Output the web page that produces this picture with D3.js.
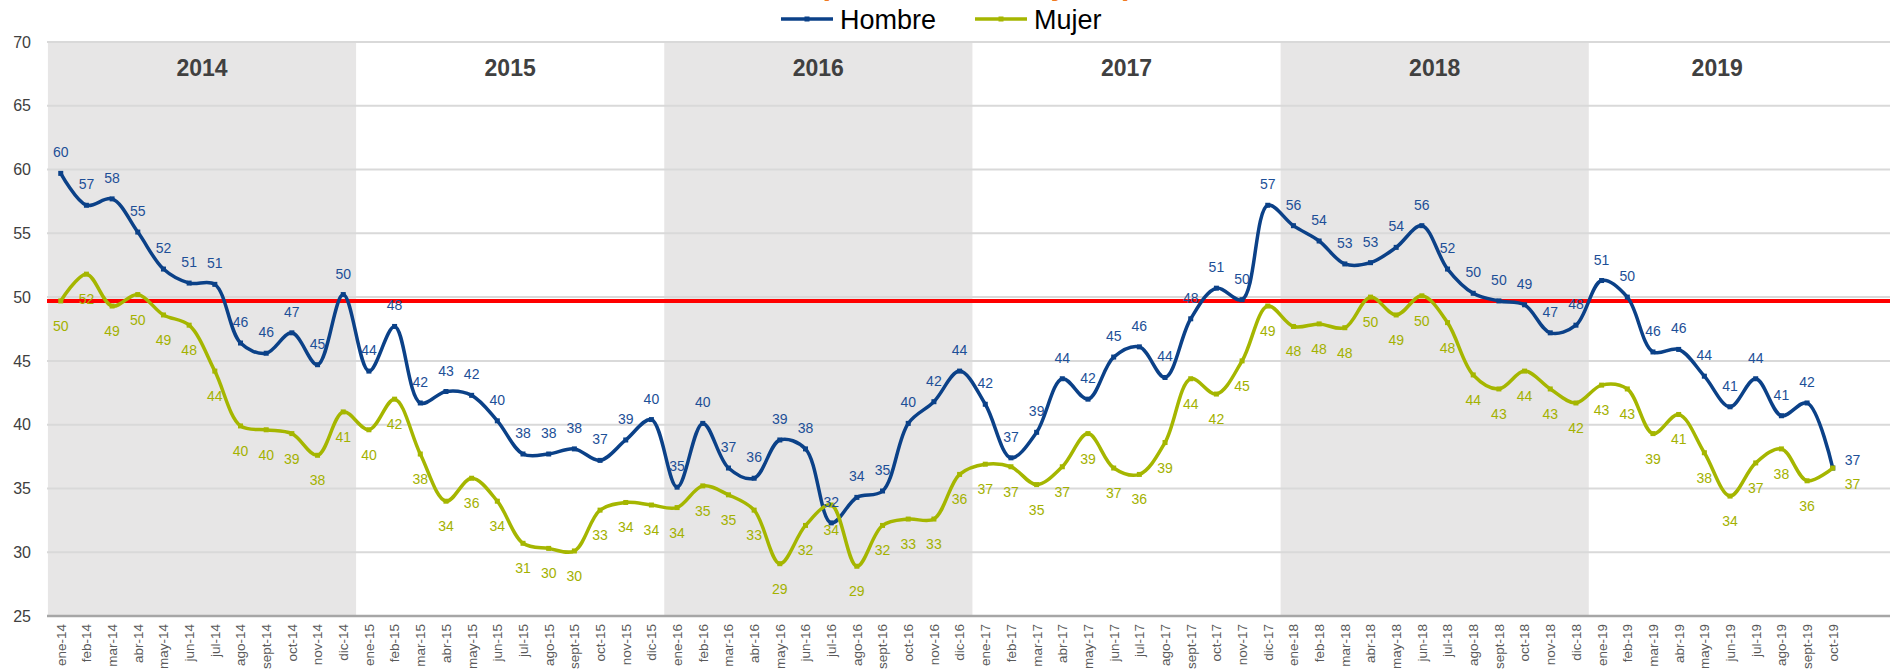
<!doctype html>
<html>
<head>
<meta charset="utf-8">
<title>Hombre / Mujer</title>
<script src="https://d3js.org/d3.v7.min.js"></script>
<style>
body { margin: 0; background: #fff; }
svg { display: block; font-family: Arial, "Liberation Sans", sans-serif; }
</style>
</head>
<body>
<svg width="1890" height="669"></svg>
<script>
// categorias (meses)
var meses = [
    "ene-14", "feb-14", "mar-14", "abr-14", "may-14", "jun-14", "jul-14", "ago-14", "sept-14", "oct-14", "nov-14", "dic-14",
    "ene-15", "feb-15", "mar-15", "abr-15", "may-15", "jun-15", "jul-15", "ago-15", "sept-15", "oct-15", "nov-15", "dic-15",
    "ene-16", "feb-16", "mar-16", "abr-16", "may-16", "jun-16", "jul-16", "ago-16", "sept-16", "oct-16", "nov-16", "dic-16",
    "ene-17", "feb-17", "mar-17", "abr-17", "may-17", "jun-17", "jul-17", "ago-17", "sept-17", "oct-17", "nov-17", "dic-17",
    "ene-18", "feb-18", "mar-18", "abr-18", "may-18", "jun-18", "jul-18", "ago-18", "sept-18", "oct-18", "nov-18", "dic-18",
    "ene-19", "feb-19", "mar-19", "abr-19", "may-19", "jun-19", "jul-19", "ago-19", "sept-19", "oct-19"
]

var hombre = [
    59.7, 57.2, 57.7, 55.1, 52.2, 51.1, 51.0, 46.4, 45.6, 47.2, 44.7, 50.2,
    44.2, 47.7, 41.7, 42.6, 42.3, 40.3, 37.7, 37.7, 38.1, 37.2, 38.8, 40.4,
    35.1, 40.1, 36.6, 35.8, 38.8, 38.1, 32.3, 34.3, 34.8, 40.1, 41.8, 44.2,
    41.6, 37.4, 39.4, 43.6, 42.0, 45.3, 46.1, 43.7, 48.3, 50.7, 49.8, 57.2,
    55.6, 54.4, 52.6, 52.7, 53.9, 55.6, 52.2, 50.3, 49.7, 49.4, 47.2, 47.8,
    51.3, 50.0, 45.7, 45.9, 43.8, 41.4, 43.6, 40.7, 41.7, 36.6
]

var mujer = [
    49.7, 51.8, 49.3, 50.2, 48.6, 47.8, 44.2, 39.9, 39.6, 39.3, 37.6, 41.0,
    39.6, 42.0, 37.7, 34.0, 35.8, 34.0, 30.7, 30.3, 30.1, 33.3, 33.9, 33.7,
    33.5, 35.2, 34.5, 33.3, 29.1, 32.1, 33.7, 28.9, 32.1, 32.6, 32.6, 36.1,
    36.9, 36.7, 35.3, 36.7, 39.3, 36.6, 36.1, 38.6, 43.6, 42.4, 45.0, 49.3,
    47.7, 47.9, 47.6, 50.0, 48.6, 50.1, 48.0, 43.9, 42.8, 44.2, 42.8, 41.7,
    43.1, 42.8, 39.3, 40.8, 37.8, 34.4, 37.0, 38.1, 35.6, 36.6
]

// bandas de año: [año, primer mes, ultimo mes]
var anios = [
    ["2014", "ene-14", "dic-14"],
    ["2015", "ene-15", "dic-15"],
    ["2016", "ene-16", "dic-16"],
    ["2017", "ene-17", "dic-17"],
    ["2018", "ene-18", "dic-18"],
    ["2019", "ene-19", "oct-19"]
]
var anios_sombreados = ["2014", "2016", "2018"]

var umbral = 49.7
var y_ticks = [25, 30, 35, 40, 45, 50, 55, 60, 65, 70]

var color_hombre = "#0B4188"
var color_mujer = "#A5B600"
var color_lbl_hombre = "#1D4F97"
var color_lbl_mujer = "#A3B100"

var svg = d3.select("svg")
var svg_width = +svg.attr("width")

var plot_left = 47.9
var plot_right = 1845.6
var grid_left = 47
var y_top = 42
var y_bottom = 616

var x = d3.scaleBand().domain(meses).range([plot_left, plot_right]).padding(0)
var y = d3.scaleLinear().domain([25, 70]).range([y_bottom, y_top])
function cx(i) { return x(meses[i]) + x.bandwidth() / 2 }

// sombreado de años
svg.selectAll(".banda")
    .data(anios.filter(function(d) { return anios_sombreados.indexOf(d[0]) >= 0 }))
    .enter().append("rect")
    .attr("class", "banda")
    .attr("x", function(d) { return x(d[1]) })
    .attr("y", y_top)
    .attr("width", function(d) { return x(d[2]) + x.bandwidth() - x(d[1]) })
    .attr("height", y_bottom - y_top)
    .attr("fill", "#E7E6E6")

// lineas de grilla
svg.selectAll(".grid")
    .data(y_ticks.slice(1))
    .enter().append("line")
    .attr("class", "grid")
    .attr("x1", grid_left).attr("x2", svg_width)
    .attr("y1", function(d) { return y(d) }).attr("y2", function(d) { return y(d) })
    .attr("stroke", "#D9D9D9").attr("stroke-width", 2)

// eje y (solo texto)
var y_axis = svg.append("g")
    .attr("transform", "translate(31,0)")
    .call(d3.axisLeft(y).tickValues(y_ticks).tickSize(0).tickPadding(0))
y_axis.select(".domain").remove()
y_axis.selectAll("text")
    .attr("font-size", "16px").attr("fill", "#404040")
    .attr("font-family", "Arial, 'Liberation Sans', sans-serif")

// linea base
svg.append("line")
    .attr("x1", grid_left).attr("x2", svg_width)
    .attr("y1", y_bottom).attr("y2", y_bottom)
    .attr("stroke", "#A6A6A6").attr("stroke-width", 2.5)

// eje x con etiquetas giradas
var x_axis = svg.append("g")
    .attr("transform", "translate(0," + y_bottom + ")")
    .call(d3.axisBottom(x).tickSize(0))
x_axis.select(".domain").remove()
x_axis.selectAll("text")
    .attr("transform", "rotate(-90)")
    .attr("x", -8).attr("y", 0).attr("dy", "0.36em")
    .attr("text-anchor", "end")
    .attr("font-size", "13.5px").attr("fill", "#595959")
    .attr("font-family", "Arial, 'Liberation Sans', sans-serif")

// etiquetas de año
svg.selectAll(".anio")
    .data(anios)
    .enter().append("text")
    .attr("class", "anio")
    .attr("x", function(d) { return (x(d[1]) + x(d[2]) + x.bandwidth()) / 2 })
    .attr("y", 76)
    .attr("text-anchor", "middle")
    .attr("font-size", "23px").attr("font-weight", "bold").attr("fill", "#404040")
    .text(function(d) { return d[0] })

// linea roja de referencia
svg.append("line")
    .attr("x1", grid_left).attr("x2", svg_width)
    .attr("y1", y(umbral)).attr("y2", y(umbral))
    .attr("stroke", "#FF0000").attr("stroke-width", 4)

// series
var linea = d3.line()
    .x(function(d, i) { return cx(i) })
    .y(function(d) { return y(d) })
    .curve(d3.curveCatmullRom.alpha(0.5))

function serie(valores, color) {
    svg.append("path")
        .datum(valores)
        .attr("d", linea)
        .attr("fill", "none")
        .attr("stroke", color)
        .attr("stroke-width", 3.5)
        .attr("stroke-linejoin", "round")
    svg.selectAll(null)
        .data(valores)
        .enter().append("rect")
        .attr("x", function(d, i) { return cx(i) - 2.5 })
        .attr("y", function(d) { return y(d) - 2.5 })
        .attr("width", 5).attr("height", 5)
        .attr("fill", color)
}
serie(hombre, color_hombre)
serie(mujer, color_mujer)

// etiquetas de datos
function etiquetas(valores, color, arriba) {
    var n = valores.length
    svg.selectAll(null)
        .data(valores)
        .enter().append("text")
        .attr("x", function(d, i) { return i === n - 1 ? cx(i) + 12 : cx(i) })
        .attr("y", function(d, i) {
            if (i === n - 1) return arriba ? y(d) - 3 : y(d) + 21
            return arriba ? y(d) - 16 : y(d) + 30
        })
        .attr("text-anchor", function(d, i) { return i === n - 1 ? "start" : "middle" })
        .attr("font-size", "14px").attr("fill", color)
        .text(function(d) { return Math.round(d) })
}
etiquetas(hombre, color_lbl_hombre, true)
etiquetas(mujer, color_lbl_mujer, false)

// titulo (cortado arriba, como en el original)
svg.append("text")
    .attr("x", 976).attr("y", -5.5)
    .attr("text-anchor", "middle")
    .attr("font-size", "30px").attr("font-weight", "bold").attr("fill", "#F07A22")
    .text("(Hombres vs Mujeres)")

// leyenda
var leyenda = [["Hombre", color_hombre, 781], ["Mujer", color_mujer, 975]]
var lg = svg.selectAll(".leyenda")
    .data(leyenda)
    .enter().append("g")
    .attr("class", "leyenda")
    .attr("transform", function(d) { return "translate(" + d[2] + ",19)" })
lg.append("line")
    .attr("x1", 0).attr("x2", 52).attr("y1", 0).attr("y2", 0)
    .attr("stroke", function(d) { return d[1] }).attr("stroke-width", 3.5)
lg.append("rect")
    .attr("x", 23.5).attr("y", -2.5).attr("width", 5).attr("height", 5)
    .attr("fill", function(d) { return d[1] })
lg.append("text")
    .attr("x", 59).attr("y", 10)
    .attr("font-size", "27px").attr("fill", "#000")
    .text(function(d) { return d[0] })
</script>
</body>
</html>
